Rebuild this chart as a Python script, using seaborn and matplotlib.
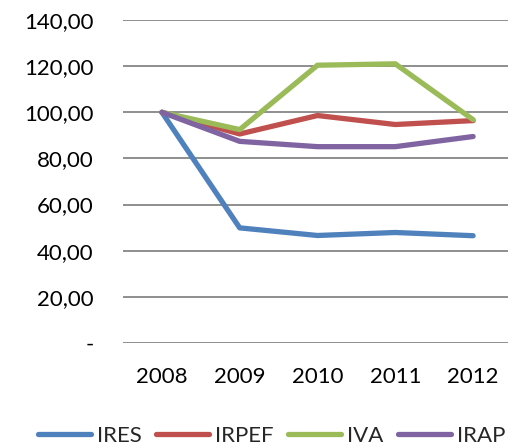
import matplotlib
matplotlib.use("Agg")
import matplotlib.pyplot as plt
import seaborn as sns
import pandas as pd
from matplotlib.lines import Line2D

years = [2008, 2009, 2010, 2011, 2012]
ires = [100.0, 49.9, 46.6, 47.9, 46.5]
irpef = [100.0, 90.6, 98.6, 94.7, 96.4]
iva = [100.0, 92.5, 120.4, 121.0, 96.8]
irap = [100.0, 87.4, 85.1, 85.1, 89.5]
series_names = ["IRES", "IRPEF", "IVA", "IRAP"]
colors = ["#4F81BD", "#C0504D", "#9BBB59", "#8064A2"]
yticks = [0, 20, 40, 60, 80, 100, 120, 140]
ytick_labels = ["-", "20,00", "40,00", "60,00", "80,00", "100,00", "120,00", "140,00"]

rows = []
for name, vals in zip(series_names, [ires, irpef, iva, irap]):
    for y, v in zip(years, vals):
        rows.append({"Anno": y, "Valore": v, "Serie": name})
df = pd.DataFrame(rows)

sns.set_theme(style="white")
plt.rcParams["font.family"] = ["Lato", "DejaVu Sans"]

W, H = 508, 445
fig = plt.figure(figsize=(W / 100, H / 100), dpi=100)
left, right, top, bottom = 123, 512, 20, 343
ax = fig.add_axes([left / W, (H - bottom) / H, (right - left) / W, (bottom - top) / H])

sns.lineplot(data=df, x="Anno", y="Valore", hue="Serie", palette=colors,
             hue_order=series_names, linewidth=3.8, ax=ax, sort=False, legend=False)
for ln in ax.get_lines():
    ln.set_solid_capstyle("round")
    ln.set_solid_joinstyle("round")
    ln.set_clip_on(False)

ax.set_xlim(2007.5, 2012.5)
ax.set_ylim(0, 140)
ax.set_yticks(yticks)
ax.set_yticklabels(ytick_labels)
ax.set_xticks(years)
ax.set_xticklabels([str(y) for y in years])
ax.tick_params(axis="y", length=0, pad=21, labelsize=16, colors="black")
ax.tick_params(axis="x", length=0, pad=17, labelsize=16, colors="black")
ax.yaxis.grid(True, color="#868686", linewidth=1.3)
ax.xaxis.grid(False)
ax.set_axisbelow(True)
for s in ax.spines.values():
    s.set_visible(False)
ax.set_xlabel("")
ax.set_ylabel("")

handles = [Line2D([0], [0], color=c, linewidth=3.8, solid_capstyle="round") for c in colors]
fig.legend(handles, series_names, loc="center left", bbox_to_anchor=(38 / W, 1 - 436 / H),
           ncol=4, frameon=False, fontsize=16, handlelength=2.4, handletextpad=0.25,
           columnspacing=0.65, borderpad=0, borderaxespad=0)

fig.savefig("out.png", dpi=100)
